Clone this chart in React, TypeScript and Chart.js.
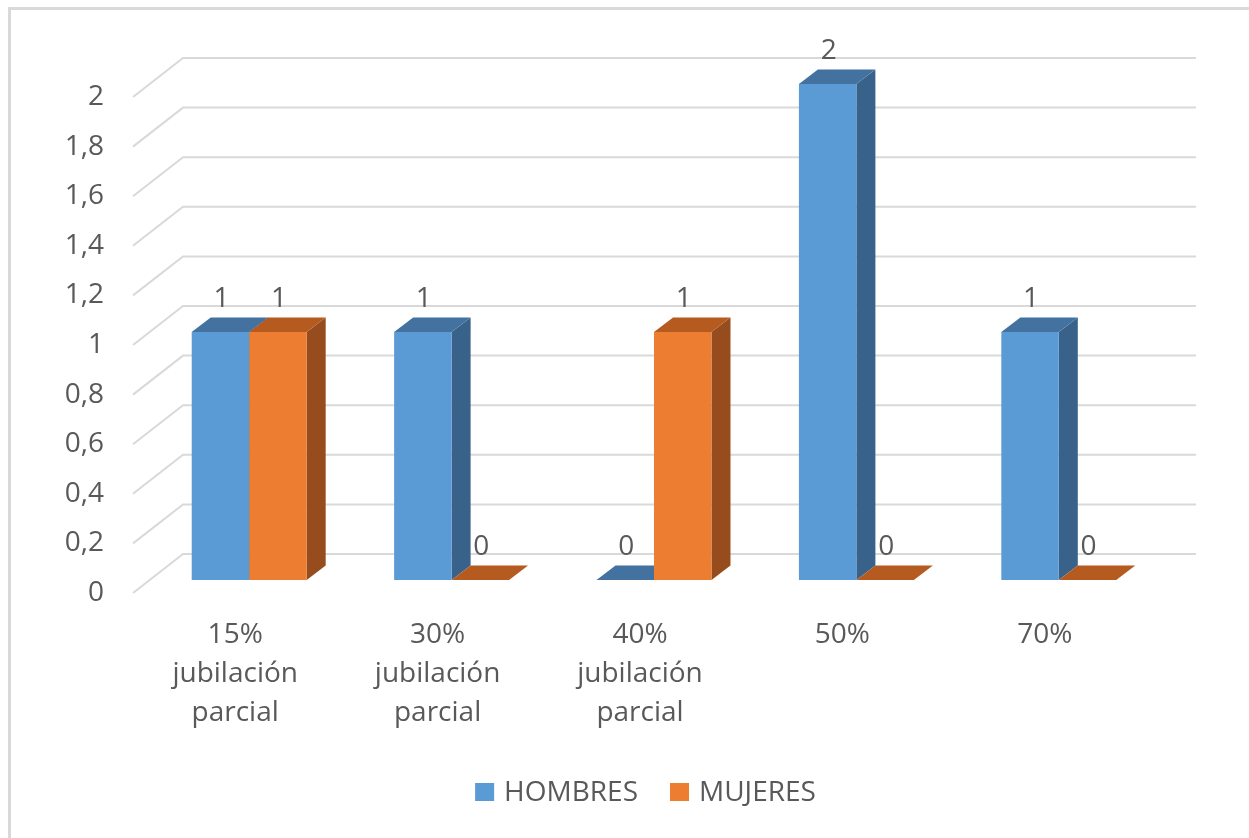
import React, { useEffect, useRef } from "react";
import { Chart, registerables } from "chart.js";

Chart.register(...registerables);

const categoryLines: string[][] = [
  ["15%", "jubilación", "parcial"],
  ["30%", "jubilación", "parcial"],
  ["40%", "jubilación", "parcial"],
  ["50%"],
  ["70%"],
];
const categories = categoryLines.map((l) => l.join(" "));
const hombres = [1, 1, 0, 2, 1];
const mujeres = [1, 0, 1, 0, 0];
const yTickValues = [0, 0.2, 0.4, 0.6, 0.8, 1, 1.2, 1.4, 1.6, 1.8, 2];
const yTickLabels = ["0", "0,2", "0,4", "0,6", "0,8", "1", "1,2", "1,4", "1,6", "1,8", "2"];
const seriesNames = ["HOMBRES", "MUJERES"];

const FONT = "28px 'Open Sans'";
const TEXT = "#595959";
const GRID = "#D9D9D9";
const FRONT = ["#5B9BD5", "#ED7D31"];
const TOP = ["#4372A0", "#B65B1F"];
const SIDE = ["#386289", "#964C1C"];
const DX = 19;
const DY = -14.5;

const threeD = {
  id: "threeD",
  beforeDatasetsDraw(chart: any) {
    const ctx = chart.ctx;
    const area = chart.chartArea;
    const ys = chart.scales.y;
    ctx.save();
    // back wall gridlines with floor diagonal
    ctx.strokeStyle = GRID;
    ctx.lineWidth = 2;
    yTickValues.forEach((v, i) => {
      const y = ys.getPixelForValue(v);
      ctx.beginPath();
      ctx.moveTo(area.left - 15, y + 13);
      ctx.lineTo(area.left + 35, y - 26);
      ctx.lineTo(area.right + 36, y - 26);
      ctx.stroke();
      ctx.fillStyle = TEXT;
      ctx.font = FONT;
      ctx.textAlign = "right";
      ctx.textBaseline = "middle";
      ctx.fillText(yTickLabels[i], 104, y + 13);
    });
    // side and top faces
    const n = chart.data.labels.length;
    for (let j = 0; j < n; j++) {
      for (let d = 0; d < chart.data.datasets.length; d++) {
        const el: any = chart.getDatasetMeta(d).data[j];
        const l = el.x - el.width / 2;
        const r = el.x + el.width / 2;
        const t = el.y;
        const b = el.base;
        if (b - t > 0.5) {
          ctx.fillStyle = SIDE[d];
          ctx.beginPath();
          ctx.moveTo(r, t);
          ctx.lineTo(r + DX, t + DY);
          ctx.lineTo(r + DX, b + DY);
          ctx.lineTo(r, b);
          ctx.closePath();
          ctx.fill();
        }
        ctx.fillStyle = TOP[d];
        ctx.beginPath();
        ctx.moveTo(l, t);
        ctx.lineTo(r, t);
        ctx.lineTo(r + DX, t + DY);
        ctx.lineTo(l + DX, t + DY);
        ctx.closePath();
        ctx.fill();
      }
    }
    ctx.restore();
  },
  afterDatasetsDraw(chart: any) {
    const ctx = chart.ctx;
    ctx.save();
    ctx.fillStyle = TEXT;
    ctx.font = FONT;
    ctx.textAlign = "center";
    ctx.textBaseline = "alphabetic";
    chart.data.datasets.forEach((ds: any, d: number) => {
      chart.getDatasetMeta(d).data.forEach((el: any, j: number) => {
        ctx.fillText(String(ds.data[j]), el.x + 1, el.y - 25);
      });
    });
    ctx.restore();
  },
  afterDraw(chart: any) {
    const ctx = chart.ctx;
    const xs = chart.scales.x;
    ctx.save();
    ctx.fillStyle = TEXT;
    ctx.font = FONT;
    ctx.textAlign = "center";
    ctx.textBaseline = "alphabetic";
    categoryLines.forEach((lines, j) => {
      const cx = xs.getPixelForValue(j) - 14;
      lines.forEach((s, k) => ctx.fillText(s, cx, 643 + 39 * k));
    });
    // legend
    const w = seriesNames.map((s) => ctx.measureText(s).width);
    const total = 19 + 10 + w[0] + 32 + 19 + 10 + w[1];
    let x = 645.5 - total / 2;
    ctx.textAlign = "left";
    seriesNames.forEach((s, i) => {
      ctx.fillStyle = FRONT[i];
      ctx.fillRect(x, 783, 19, 18);
      ctx.fillStyle = TEXT;
      ctx.fillText(s, x + 29, 801);
      x += 29 + w[i] + 32;
    });
    // chart frame (top & left visible)
    ctx.strokeStyle = GRID;
    ctx.lineWidth = 3;
    ctx.beginPath();
    ctx.moveTo(9.5, 900);
    ctx.lineTo(9.5, 8.5);
    ctx.lineTo(1300, 8.5);
    ctx.stroke();
    ctx.restore();
  },
};

export default function App() {
  const ref = useRef<HTMLCanvasElement>(null);
  useEffect(() => {
    if (!ref.current) return;
    const chart = new Chart(ref.current, {
      type: "bar",
      data: {
        labels: categories,
        datasets: [
          { label: seriesNames[0], data: hombres, backgroundColor: FRONT[0], borderWidth: 0 },
          { label: seriesNames[1], data: mujeres, backgroundColor: FRONT[1], borderWidth: 0 },
        ],
      },
      options: {
        animation: false,
        responsive: false,
        devicePixelRatio: 1,
        layout: { padding: { left: 148, right: 89, top: 84, bottom: 258 } },
        datasets: { bar: { categoryPercentage: 0.568, barPercentage: 1 } },
        scales: {
          x: { display: false, offset: true },
          y: { display: false, min: 0, max: 2 },
        },
        plugins: { legend: { display: false }, tooltip: { enabled: false } },
      },
      plugins: [threeD],
    });
    return () => chart.destroy();
  }, []);
  return (
    <div style={{ position: "absolute", left: 0, top: 0, width: 1249, height: 838, background: "#fff" }}>
      <canvas ref={ref} width={1249} height={838} style={{ display: "block" }} />
    </div>
  );
}
